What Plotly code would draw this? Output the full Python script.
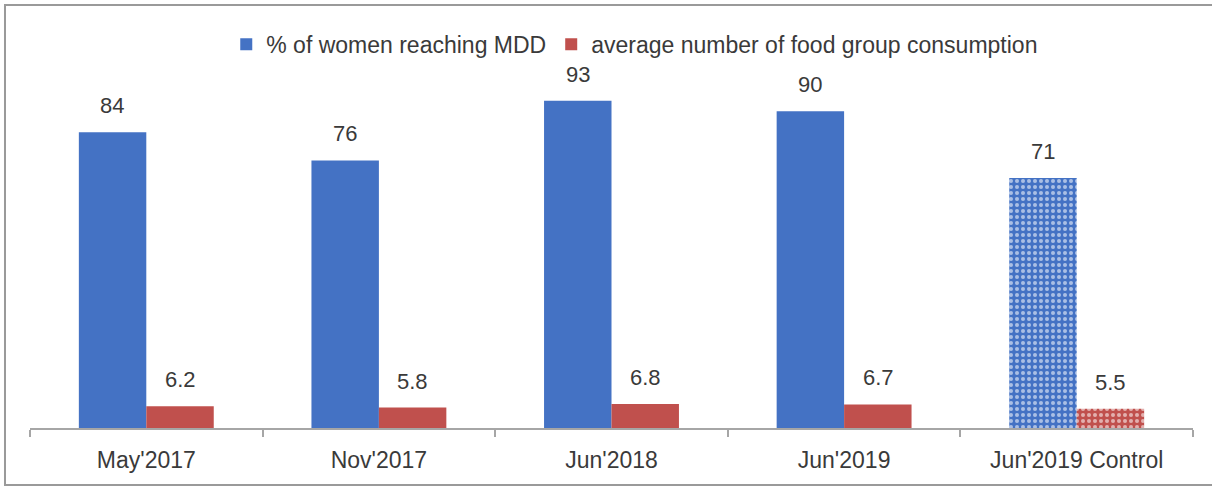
import plotly.graph_objects as go

categories = ["May'2017", "Nov'2017", "Jun'2018", "Jun'2019", "Jun'2019 Control"]
mdd_pct = [84, 76, 93, 90, 71]
food_groups = [6.2, 5.8, 6.8, 6.7, 5.5]
series_names = ["% of women reaching MDD", "average number of food group consumption"]
patterns = ["", "", "", "", "."]

BLUE = "#4472C4"
RED = "#C0504D"
TXT = "#3a3a3a"
FONT = "Liberation Sans, Arial, sans-serif"
FS = 23

fig = go.Figure()
for name, vals, col, shift in [(series_names[0], mdd_pct, BLUE, -34),
                                (series_names[1], food_groups, RED, 34)]:
    fig.add_trace(go.Bar(
        x=categories, y=vals, name=name,
        marker=dict(color=col, line=dict(width=0),
                    pattern=dict(shape=patterns, fillmode="overlay",
                                 fgcolor="white", fgopacity=0.55,
                                 size=6, solidity=0.35)),
    ))
    for c, v in zip(categories, vals):
        fig.add_annotation(x=c, y=v, text=str(v), showarrow=False,
                           xshift=shift, yanchor="bottom", yshift=12,
                           font=dict(family=FONT, size=22, color=TXT))

fig.add_shape(type="rect", xref="paper", yref="paper",
              x0=-0.0215, x1=1.1, y0=-0.162, y1=1.2017,
              line=dict(color="#9a9a9a", width=2), layer="below")

fig.update_layout(
    width=1212, height=487,
    margin=dict(l=30, r=19, t=76, b=59),
    paper_bgcolor="white", plot_bgcolor="white",
    barmode="group", bargap=0.42, bargroupgap=0,
    font=dict(family=FONT, size=FS, color=TXT),
    showlegend=True,
    legend=dict(orientation="h", x=0.52, xanchor="center", y=1.09,
                yanchor="middle", font=dict(family=FONT, size=FS, color=TXT),
                itemwidth=30, traceorder="normal"),
    xaxis=dict(showline=True, linecolor="#a6a6a6", linewidth=1.5,
               ticks="outside", tickson="boundaries", ticklen=7,
               tickcolor="#a6a6a6", tickwidth=1.5,
               tickfont=dict(family=FONT, size=FS, color=TXT),
               ticklabelstandoff=11, showgrid=False),
    yaxis=dict(range=[0, 100], visible=False, showgrid=False),
)

fig.write_html("out.html")
